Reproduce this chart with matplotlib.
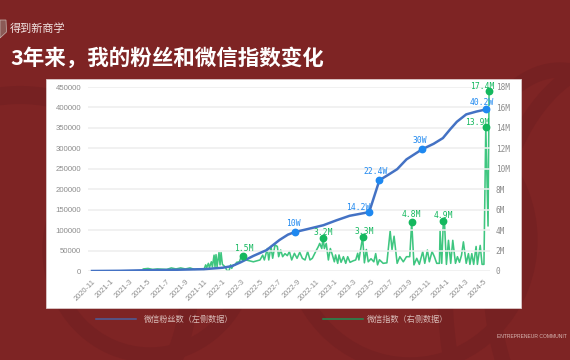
import matplotlib
matplotlib.use("Agg")
import matplotlib.pyplot as plt
from matplotlib.patches import Arc, Rectangle, Polygon

plt.rcParams["font.family"] = ["Noto Sans CJK SC", "DejaVu Sans"]

# month 0 is 2020-11
tick_labels = ["2020-11", "2021-1", "2021-3", "2021-5", "2021-7", "2021-9", "2021-11",
               "2022-1", "2022-3", "2022-5", "2022-7", "2022-9", "2022-11",
               "2023-1", "2023-3", "2023-5", "2023-7", "2023-9", "2023-11",
               "2024-1", "2024-3", "2024-5"]
left_ticks = [0, 50000, 100000, 150000, 200000, 250000, 300000, 350000, 400000, 450000]
right_ticks = [0, 2, 4, 6, 8, 10, 12, 14, 16, 18]

fans_month = [0, 3, 6, 9, 12, 14, 15, 15.9, 17.3, 18.7, 20.1, 21, 21.7, 23, 24.8, 26.2, 27.6,
              29.7, 30.8, 31.8, 32.7, 33.7, 35.4, 36.6, 37.6, 38.4, 39.1, 40.1, 41.2, 42.2]
fans_value = [0, 500, 2000, 3000, 4500, 8000, 12000, 21000, 37000, 51000, 76000, 89000, 95000,
              102000, 112000, 124000, 135000, 144000, 222000, 236000, 249000, 273000, 298000,
              311000, 325000, 347000, 365000, 383000, 390000, 395000]

index_month = [5.5, 6, 6.5, 7, 8, 8.5, 9, 9.5, 10, 10.5, 11, 11.5, 12,
               12.18, 12.29, 12.47, 12.58, 12.79, 12.9, 13.08, 13.18, 13.29, 13.4, 13.61, 13.72,
               13.83, 13.97, 14.25, 14.5, 14.68, 14.86, 14.97, 15.15, 15.33, 15.5, 15.79, 15.93,
               16.22, 16.5, 17.29, 18, 18.29, 18.47, 18.79, 18.94, 19.18, 19.36, 19.61, 19.86,
               20, 20.22, 20.43, 20.68, 20.93, 21.15, 21.4, 21.69, 21.97, 22.26, 22.54, 22.83,
               23.11, 23.36, 23.61, 23.97, 24.26, 24.4, 24.62, 24.76, 24.9, 25.1, 25.33, 25.54,
               25.76, 25.97, 26.1, 26.33, 26.47, 26.69, 26.94, 27.19, 27.4, 27.65, 28, 28.26,
               28.47, 28.6, 29, 29.19, 29.4, 29.6, 29.9, 30.2, 30.4, 30.6, 30.8, 31.2, 31.6,
               31.95, 32.15, 32.37, 32.7, 32.99, 33.36, 33.7, 34.05, 34.26, 34.5, 34.8, 35.08,
               35.44, 35.66, 35.94, 36.15, 36.44, 36.69, 36.94, 37.23, 37.3, 37.48, 37.65, 37.78,
               37.98, 38.2, 38.44, 38.66, 38.95, 39.16, 39.38, 39.6, 39.8, 40.1, 40.34, 40.5,
               40.7, 40.9, 41.16, 41.3, 41.6, 41.8, 42.0, 42.2, 42.44, 42.55]
index_value = [0.2, 0.25, 0.15, 0.2, 0.15, 0.3, 0.2, 0.3, 0.2, 0.3, 0.15, 0.2, 0.15,
               0.6, 0.33, 0.75, 0.33, 0.9, 0.4, 1.55, 0.42, 1.6, 0.42, 1.8, 0.6,
               1.8, 0.65, 0.42, 0.0, 0.03, 0.6, 0.26, 0.6, 0.6, 0.85, 0.9, 1.25,
               1.5, 1.08, 0.9, 1.08, 1.55, 1.08, 2.2, 1.08, 2.4, 1.25, 2.55, 2.4,
               1.4, 2.05, 1.4, 1.7, 1.5, 1.9, 1.08, 1.73, 1.24, 1.83, 1.24, 1.08,
               1.9, 1.08, 1.24, 1.9, 2.4, 2.7, 2.2, 3.2, 2.2, 2.7, 1.08, 2.2,
               1.57, 0.9, 1.57, 0.75, 1.57, 0.85, 1.4, 0.75, 1.4, 0.85, 1.0, 1.08,
               1.73, 1.08, 3.3, 0.8, 2.1, 0.9, 1.2, 0.9, 1.7, 0.6, 1.1, 0.75, 0.8,
               3.9, 2.1, 3.4, 0.75, 1.4, 0.9, 1.4, 1.4, 4.8, 0.6, 1.24, 0.65,
               1.9, 0.75, 2.05, 0.9, 1.9, 1.4, 0.75, 0.75, 3.9, 0.75, 4.9, 4.6,
               0.65, 3.0, 0.75, 3.0, 0.75, 1.4, 0.85, 1.55, 2.85, 0.75, 1.7, 0.65,
               1.7, 0.65, 2.4, 0.65, 2.5, 0.65, 0.65, 14.1, 4.4, 17.6]

fans_marks = {21.7: "10W", 29.7: "14.2W", 30.8: "22.4W", 35.4: "30W", 42.2: "40.2W"}
index_marks = {16.22: "1.5M", 24.76: "3.2M", 29: "3.3M", 34.26: "4.8M", 37.65: "4.9M",
               42.2: "13.9M", 42.55: "17.4M"}

BG = "#7e2424"
DARK = "#762122"
BLUE = "#4472c4"
BLUE_DOT = "#1e88f0"
GREEN = "#3fc680"
GREEN_DOT = "#14b85e"

fig = plt.figure(figsize=(5.7, 3.6), dpi=100, facecolor=BG)

# page layer in pixel coords
bg = fig.add_axes([0, 0, 1, 1], zorder=0)
bg.set_xlim(0, 570)
bg.set_ylim(360, 0)
bg.axis("off")

# faint rings behind the panel
for cx, cy, w, h, lw in [(150, 250, 200, 210, 11), (410, 240, 240, 250, 11),
                         (20, 280, 340, 370, 13), (560, 290, 230, 440, 11),
                         (620, 270, 260, 420, 11)]:
    bg.add_patch(Arc((cx, cy), w, h, color=DARK, lw=lw))

bg.add_patch(Rectangle((45.5, 79), 475.5, 229, fc="white", ec="#dcc8c8", lw=0.6))
bg.add_patch(Polygon([(0, 20), (6, 20), (6.5, 32), (0, 38)], fc="#8b5a56", ec="#c8b4b0", lw=0.5))

bg.text(10, 29, "得到新商学", color="#f3e6e4", fontsize=8, va="center", ha="left", fontweight="medium")
bg.text(10, 57.5, "3年来，我的粉丝和微信指数变化", color="white", fontsize=15.5, va="center", ha="left",
        fontweight="bold")
bg.text(497, 336, "ENTREPRENEUR COMMUNIT", color="#d8b8b4", fontsize=3.6, va="center", ha="left",
        family=["Liberation Sans"])

# main chart
ax = fig.add_axes([88 / 570, (360 - 271) / 360, 402 / 570, 184 / 360], zorder=2)
ax2 = ax.twinx()
ax.set_zorder(ax2.get_zorder() + 1)
ax.patch.set_visible(False)
ax2.patch.set_visible(False)

line1, = ax.plot(fans_month, fans_value, color=BLUE, lw=1.8, solid_joinstyle="round", zorder=3)
line2, = ax2.plot(index_month, index_value, color=GREEN, lw=1.15, solid_joinstyle="round", zorder=2)

ax.set_xlim(-0.43, 42.65)
ax.set_ylim(0, 450000)
ax2.set_ylim(0, 18)

ax.set_yticks(left_ticks)
ax.set_yticklabels([str(v) for v in left_ticks], family=["Liberation Sans"], fontsize=5.6, color="#8c8c8c")
ax2.set_yticks(right_ticks)
ax2.set_yticklabels([f"{v}M" if v else "0" for v in right_ticks], family=["DejaVu Sans Mono"],
                    fontsize=5.6, color="#8c8c8c")
ax.set_xticks(range(0, 2 * len(tick_labels), 2))
ax.set_xticklabels(tick_labels, rotation=45, ha="right", rotation_mode="anchor",
                   family=["Liberation Sans"], fontsize=5.4, color="#8c8c8c")
ax.tick_params(axis="both", length=0, pad=5)
ax2.tick_params(axis="y", length=0, pad=4)
ax.grid(axis="y", color="#eeeeee", lw=1.1)
ax.set_axisbelow(True)
for a in (ax, ax2):
    for s in a.spines.values():
        s.set_visible(False)

# labelled points, label offset in points from the dot
fans_offset = {"10W": (-1, 6), "14.2W": (-8, 3), "22.4W": (-3, 6), "30W": (-2, 6), "40.2W": (-3, 5)}
index_offset = {"1.5M": (0, 5), "3.2M": (0, 4), "3.3M": (1, 4), "4.8M": (0, 5), "4.9M": (0, 4),
                "13.9M": (-6, 3), "17.4M": (-5, 3)}

for m, label in fans_marks.items():
    v = fans_value[fans_month.index(m)]
    ax.plot(m, v, "o", color=BLUE_DOT, ms=4.6, zorder=5, clip_on=False)
    ax.annotate(label, (m, v), xytext=fans_offset[label], textcoords="offset points", ha="center",
                va="center", color=BLUE_DOT, fontsize=5.8, family=["DejaVu Sans Mono"], zorder=6,
                annotation_clip=False)

for m, label in index_marks.items():
    v = index_value[index_month.index(m)]
    ax.plot(m, v * 25000, "o", color=GREEN_DOT, ms=4.6, zorder=5, clip_on=False)
    ax.annotate(label, (m, v * 25000), xytext=index_offset[label], textcoords="offset points", ha="center",
                va="center", color=GREEN_DOT, fontsize=5.8, family=["DejaVu Sans Mono"], zorder=6,
                annotation_clip=False)

# two legends because the gap to the text differs
leg1 = plt.Line2D([], [], color="#4a5f9e", lw=1.1)
leg2 = plt.Line2D([], [], color="#1f8f52", lw=1.1)
fig.legend([leg1], ["微信粉丝数（左侧数据）"], frameon=False, labelcolor="#d9bcb8", fontsize=5.9,
           handlelength=4.9, handletextpad=1.0, loc="center left",
           bbox_to_anchor=(96 / 570, 1 - 319 / 360), borderpad=0, borderaxespad=0)
fig.legend([leg2], ["微信指数（右侧数据）"], frameon=False, labelcolor="#d9bcb8", fontsize=5.9,
           handlelength=4.9, handletextpad=0.45, loc="center left",
           bbox_to_anchor=(323 / 570, 1 - 319 / 360), borderpad=0, borderaxespad=0)

fig.savefig("out.png", dpi=100, facecolor=BG)
